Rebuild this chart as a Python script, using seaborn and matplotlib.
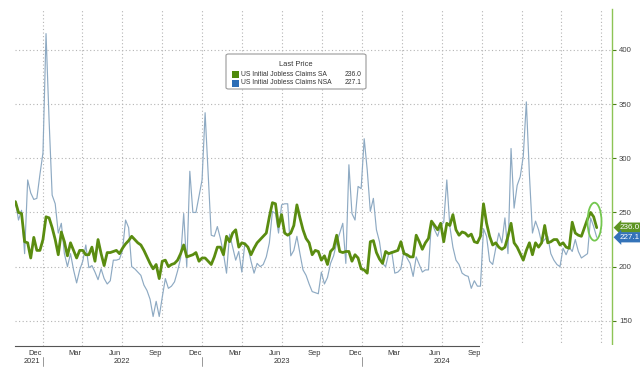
import pandas as pd
import numpy as np
import matplotlib
matplotlib.use("Agg")
import matplotlib.pyplot as plt
import matplotlib.dates as mdates
import matplotlib.transforms as mtransforms
from matplotlib.patches import Ellipse, FancyBboxPatch, Rectangle
import seaborn as sns

# Weekly initial jobless claims (thousands), week ending Saturday
weeks = pd.date_range("2021-10-30", "2025-06-21", freq="W-SAT")

claims_sa = [
    260, 250, 249, 223, 222, 208, 227, 215, 215, 225,
    246, 245, 236, 225, 211, 232, 223, 210, 222, 215,
    208, 215, 215, 211, 211, 218, 205, 225, 212, 201,
    213, 213, 214, 215, 212, 217, 221, 224, 228, 225,
    222, 220, 215, 209, 203, 198, 202, 189, 205, 206,
    200, 202, 203, 206, 212, 220, 209, 210, 211, 213,
    205, 208, 208, 205, 202, 209, 218, 218, 211, 228,
    223, 231, 234, 218, 222, 221, 218, 211, 217, 222,
    225, 228, 231, 246, 259, 258, 237, 248, 231, 229,
    231, 238, 257, 245, 234, 226, 222, 211, 215, 214,
    206, 210, 202, 214, 217, 229, 214, 213, 214, 214,
    205, 211, 208, 198, 197, 194, 223, 224, 213, 207,
    203, 214, 212, 213, 214, 215, 223, 212, 211, 209,
    209, 229, 223, 216, 222, 226, 242, 238, 234, 240,
    223, 240, 238, 248, 234, 229, 232, 231, 228, 230,
    223, 222, 228, 258, 240, 228, 220, 222, 218, 216,
    218, 228, 240, 222, 218, 212, 206, 215, 222, 211,
    222, 218, 222, 238, 222, 223, 225, 225, 220, 222,
    218, 217, 241, 231, 229, 228, 236, 244, 250, 246,
    236.0,
]

claims_nsa = [
    260, 243, 252, 212, 280, 268, 262, 263, 285, 305,
    415, 335, 266, 258, 231, 240, 212, 200, 212, 197,
    185, 197, 205, 220, 199, 201, 195, 188, 198, 189,
    184, 187, 206, 206, 207, 215, 243, 236, 200, 198,
    195, 192, 183, 178, 170, 154, 168, 154, 172, 189,
    180, 182, 186, 196, 208, 249, 200, 288, 250, 250,
    265, 280, 342, 285, 229, 228, 237, 226, 212, 194,
    230, 218, 206, 214, 195, 222, 218, 205, 194, 203,
    200, 202, 209, 222, 251, 249, 231, 257, 258, 258,
    210, 215, 228, 212, 197, 192, 184, 177, 176, 175,
    195, 184, 190, 203, 210, 222, 231, 240, 203, 294,
    249, 243, 274, 272, 318, 289, 251, 263, 234, 223,
    203, 200, 212, 214, 194, 195, 198, 215, 208, 203,
    191, 209, 202, 195, 197, 197, 242, 234, 228, 238,
    241, 280, 237, 218, 206, 202, 194, 192, 191, 180,
    187, 182, 182, 235, 228, 205, 202, 217, 231, 222,
    245, 212, 309, 254, 275, 283, 302, 352, 285, 231,
    242, 234, 222, 225, 228, 212, 206, 202, 200, 217,
    211, 218, 214, 225, 214, 208, 210, 212, 245, 237,
    227.1,
]

series_names = ["US Initial Jobless Claims SA", "US Initial Jobless Claims NSA"]
line_colors = ["#5a8c10", "#8eaac3"]
key_colors = ["#4f8a0c", "#2b6db6"]
tag_colors = ["#5e9522", "#3473b9"]
y_ticks = [150, 200, 250, 300, 350, 400]
year_labels = ["2021", "2022", "2023", "2024"]
year_label_dates = ["2021-12-06", "2022-07-01", "2023-07-01", "2024-07-01"]

assert len(claims_sa) == len(weeks) == len(claims_nsa)

sa = pd.DataFrame({"week": weeks, "claims": claims_sa})
nsa = pd.DataFrame({"week": weeks, "claims": claims_nsa})

sns.set_style("white")
plt.rcParams["font.family"] = ["Liberation Sans", "DejaVu Sans"]

W, H = 640, 374
fig = plt.figure(figsize=(W / 100, H / 100), dpi=100)
ax = fig.add_axes([15 / W, 1 - 346 / H, (612 - 15) / W, (346 - 9) / H])


def px(x, y):
    return x / W, 1 - y / H


# NSA underneath, SA on top
sns.lineplot(data=nsa, x="week", y="claims", ax=ax, color=line_colors[1], lw=0.85)
sns.lineplot(data=sa, x="week", y="claims", ax=ax, color=line_colors[0], lw=2.0)

ax.set_xlim(pd.Timestamp("2021-10-29"), pd.Timestamp("2025-07-26"))
ax.set_ylim(126.8, 437.7)
ax.set_xlabel("")
ax.set_ylabel("")

# grid
grid_kw = dict(color="#b4b4b4", lw=0.8, linestyle=(0, (1, 2.2)), zorder=0)
for y in y_ticks:
    ax.axhline(y, **grid_kw)
for q in pd.date_range("2022-01-01", "2025-07-01", freq="QS"):
    ax.axvline(q, **grid_kw)

# right axis
ax.yaxis.tick_right()
ax.set_yticks(y_ticks)
ax.tick_params(axis="y", which="major", direction="out", length=3, width=0.8,
               color="#4d7f19", labelsize=5.6, labelcolor="#444444", pad=2)

# x axis: month labels mid-month, monthly minor ticks
ax.xaxis.set_major_locator(mdates.MonthLocator(bymonth=[3, 6, 9, 12], bymonthday=15))
ax.xaxis.set_major_formatter(mdates.DateFormatter("%b"))
ax.xaxis.set_minor_locator(mdates.MonthLocator())
ax.tick_params(axis="x", which="major", length=0, labelsize=5.4,
               labelcolor="#333333", pad=3)
ax.tick_params(axis="x", which="minor", length=2.5, width=0.7, color="#555555",
               direction="out")

for side in ["left", "top"]:
    ax.spines[side].set_visible(False)
ax.spines["bottom"].set_color("#555555")
ax.spines["bottom"].set_linewidth(0.8)
ax.spines["right"].set_color("#8dc455")
ax.spines["right"].set_linewidth(1.0)

xtr = ax.get_xaxis_transform()
ah = 346 - 9
for label, d in zip(year_labels, year_label_dates):
    ax.text(pd.Timestamp(d), -(358 - 346) / ah, label, transform=xtr, ha="center",
            va="top", fontsize=5.4, color="#333333")
for yr in ["2022-01-01", "2023-01-01", "2024-01-01"]:
    ax.plot([pd.Timestamp(yr)] * 2, [-(357 - 346) / ah, -(366 - 346) / ah],
            transform=xtr, clip_on=False, color="#888888", lw=0.6)

# legend box
x0, y0 = px(226, 89)
x1, y1 = px(366, 54)
fig.patches.append(FancyBboxPatch((x0, y0), x1 - x0, y1 - y0,
                                  boxstyle="round,pad=0,rounding_size=0.004",
                                  transform=fig.transFigure, fc="white",
                                  ec="#9a9a9a", lw=0.8, zorder=5))
fig.text(*px(296, 64), "Last Price", ha="center", va="center", fontsize=5.4,
         color="#333333", zorder=6)
last_vals = [claims_sa[-1], claims_nsa[-1]]
for i, (name, col, val) in enumerate(zip(series_names, key_colors, last_vals)):
    ry = 74 + i * 9
    sx, sy = px(232, ry + 3.5)
    fig.patches.append(Rectangle((sx, sy), 7 / W, 7 / H, transform=fig.transFigure,
                                 fc=col, ec="none", zorder=6))
    fig.text(*px(241, ry), name, ha="left", va="center", fontsize=4.9,
             color="#333333", zorder=6)
    fig.text(*px(362, ry), f"{val:.1f}", ha="right", va="center", fontsize=4.9,
             color="#333333", zorder=6)

# last value tags on the right axis
ytr = mtransforms.blended_transform_factory(ax.transAxes, ax.transData)
for val, col in zip(last_vals, tag_colors):
    ax.text(1.012, val, f"{val:.1f}", transform=ytr, ha="left", va="center",
            fontsize=5.8, color="white", clip_on=False,
            bbox=dict(boxstyle="larrow,pad=0.2", fc=col, ec="none"))

# highlight circle around the latest readings
cx = mdates.date2num(pd.Timestamp("2025-06-16"))
ax.add_patch(Ellipse((cx, 241.5), width=32, height=35, fc="none",
                     ec="#74c74f", lw=1.3, zorder=5))

# faded corner (covers the last axis labels as in the source image)
fig.patches.append(Rectangle(px(480, 374), (W - 480) / W, (374 - 345) / H,
                             transform=fig.transFigure, fc="white", ec="none",
                             zorder=10))

fig.savefig("out.png", dpi=100)
